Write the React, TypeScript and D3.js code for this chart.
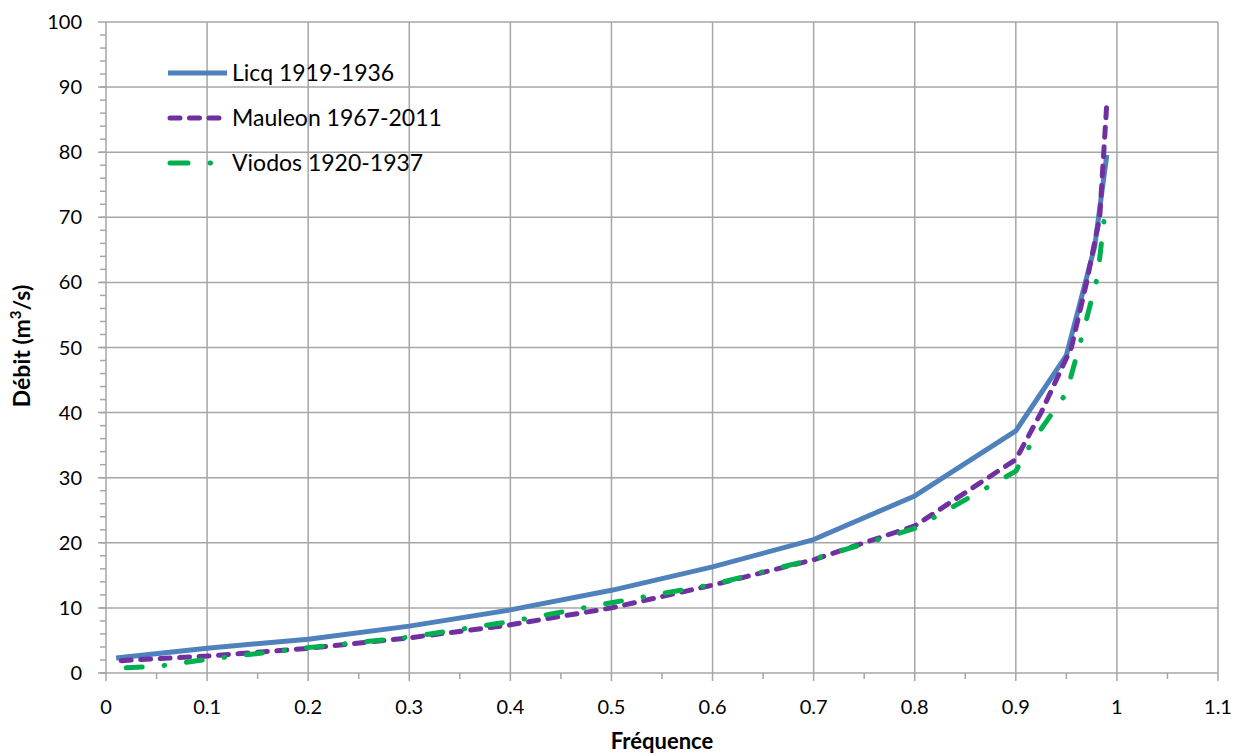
import * as d3 from 'd3';
import React, { useEffect, useRef } from 'react';

// Fréquence values for each series
const licqFreq = [0.01, 0.1, 0.2, 0.3, 0.4, 0.5, 0.6, 0.7, 0.8, 0.9, 0.95, 0.978, 0.99];
const licqFlow = [2.3, 3.8, 5.2, 7.2, 9.7, 12.7, 16.3, 20.5, 27.2, 37.2, 48.8, 65.5, 79.6];

const mauleonFreq = [0.015, 0.1, 0.2, 0.3, 0.4, 0.5, 0.6, 0.7, 0.8, 0.9, 0.925, 0.955, 0.97, 0.983, 0.987, 0.99];
const mauleonFlow = [1.9, 2.6, 3.8, 5.4, 7.4, 10.0, 13.5, 17.4, 22.6, 32.8, 40, 50, 60, 70, 80, 87.5];

const viodosFreq = [0.02, 0.05, 0.1, 0.2, 0.3, 0.4, 0.5, 0.6, 0.7, 0.8, 0.9, 0.916, 0.95, 0.966, 0.981, 0.988, 0.99];
const viodosFlow = [0.8, 1.0, 2.1, 3.9, 5.5, 7.9, 10.8, 13.6, 17.5, 22.2, 31.0, 35.5, 43, 52, 61, 70.6, 71.6];

const seriesNames = ['Licq 1919-1936', 'Mauleon 1967-2011', 'Viodos 1920-1937'];
const seriesColors = ['#4F81BD', '#7030A0', '#00B050'];
const seriesDash = [null, '10 9.5', '16 22 0.5 22'];

const xTicks = [0, 0.1, 0.2, 0.3, 0.4, 0.5, 0.6, 0.7, 0.8, 0.9, 1, 1.1];
const yTicks = [0, 10, 20, 30, 40, 50, 60, 70, 80, 90, 100];

const App = () => {
    const ref = useRef<SVGSVGElement>(null);

    useEffect(() => {
        const svg = d3.select(ref.current);
        svg.selectAll('*').remove();

        const width = 1244;
        const height = 756;
        const margin = { top: 22, right: 26, bottom: 83, left: 106 };
        const gridColor = '#a6a6a6';
        const font = 'Lato, "Open Sans", sans-serif';

        const x = d3.scaleLinear().domain([0, 1.1]).range([margin.left, width - margin.right]);
        const y = d3.scaleLinear().domain([0, 100]).range([height - margin.bottom, margin.top]);

        // Grid lines
        svg.append('g').selectAll('line')
            .data(xTicks)
            .enter()
            .append('line')
            .attr('x1', d => x(d)).attr('x2', d => x(d))
            .attr('y1', y(100)).attr('y2', y(0) + 8)
            .attr('stroke', gridColor).attr('stroke-width', 1.5);

        svg.append('g').selectAll('line')
            .data(yTicks)
            .enter()
            .append('line')
            .attr('x1', x(0) - 8).attr('x2', x(1.1))
            .attr('y1', d => y(d)).attr('y2', d => y(d))
            .attr('stroke', gridColor).attr('stroke-width', 1.5);

        // Minor ticks
        svg.append('g').selectAll('line')
            .data(d3.range(0, 100, 2))
            .enter()
            .append('line')
            .attr('x1', x(0) - 6).attr('x2', x(0))
            .attr('y1', d => y(d)).attr('y2', d => y(d))
            .attr('stroke', gridColor).attr('stroke-width', 1.5);

        svg.append('g').selectAll('line')
            .data(d3.range(0.05, 1.1, 0.1))
            .enter()
            .append('line')
            .attr('x1', d => x(d)).attr('x2', d => x(d))
            .attr('y1', y(0)).attr('y2', y(0) + 6)
            .attr('stroke', gridColor).attr('stroke-width', 1.5);

        // Tick labels
        svg.append('g').selectAll('text')
            .data(yTicks)
            .enter()
            .append('text')
            .attr('x', x(0) - 24)
            .attr('y', d => y(d) + 7)
            .attr('text-anchor', 'end')
            .style('font-family', font)
            .style('font-size', '20px')
            .style('fill', '#000')
            .text(d => d);

        svg.append('g').selectAll('text')
            .data(xTicks)
            .enter()
            .append('text')
            .attr('x', d => x(d))
            .attr('y', y(0) + 41)
            .attr('text-anchor', 'middle')
            .style('font-family', font)
            .style('font-size', '20px')
            .style('fill', '#000')
            .text(d => d);

        // Axis titles
        svg.append('text')
            .attr('x', (x(0) + x(1.1)) / 2)
            .attr('y', 749)
            .attr('text-anchor', 'middle')
            .style('font-family', font)
            .style('font-size', '22px')
            .style('font-weight', 'bold')
            .text('Fréquence');

        const yTitle = svg.append('text')
            .attr('transform', 'translate(30,' + 346 + ') rotate(-90)')
            .attr('text-anchor', 'middle')
            .style('font-family', font)
            .style('font-size', '23px')
            .style('font-weight', 'bold');
        yTitle.append('tspan').text('Débit (m');
        yTitle.append('tspan').attr('dy', -9).style('font-size', '15px').text('3');
        yTitle.append('tspan').attr('dy', 9).text('/s)');

        // Lines
        const series = [
            licqFreq.map((f, i) => [f, licqFlow[i]]),
            mauleonFreq.map((f, i) => [f, mauleonFlow[i]]),
            viodosFreq.map((f, i) => [f, viodosFlow[i]]),
        ];
        const line = d3.line<number[]>().x(d => x(d[0])).y(d => y(d[1]));

        series.forEach((s, i) => {
            svg.append('path')
                .datum(s)
                .attr('d', line)
                .attr('fill', 'none')
                .attr('stroke', seriesColors[i])
                .attr('stroke-width', 5)
                .attr('stroke-linejoin', 'round')
                .attr('stroke-linecap', i === 0 ? 'butt' : 'round')
                .attr('stroke-dasharray', seriesDash[i]);
        });

        // Legend
        const legend = svg.append('g');
        seriesNames.forEach((name, i) => {
            const ly = 73 + i * 45;
            legend.append('line')
                .attr('x1', i === 0 ? 168 : 170).attr('x2', i === 0 ? 227 : 225)
                .attr('y1', ly).attr('y2', ly)
                .attr('stroke', seriesColors[i])
                .attr('stroke-width', 5)
                .attr('stroke-linecap', i === 0 ? 'butt' : 'round')
                .attr('stroke-dasharray', i === 1 ? '10 9.5' : i === 2 ? '18 22 0.5 40' : null);
            legend.append('text')
                .attr('x', 232)
                .attr('y', ly + 8)
                .style('font-family', font)
                .style('font-size', '23px')
                .style('fill', '#000')
                .text(name);
        });
    }, []);

    return (
        <div style={{ position: 'absolute', left: 0, top: 0 }}>
            <svg ref={ref} width={1244} height={756} style={{ display: 'block', background: '#fff' }} />
        </div>
    );
};

export default App;
